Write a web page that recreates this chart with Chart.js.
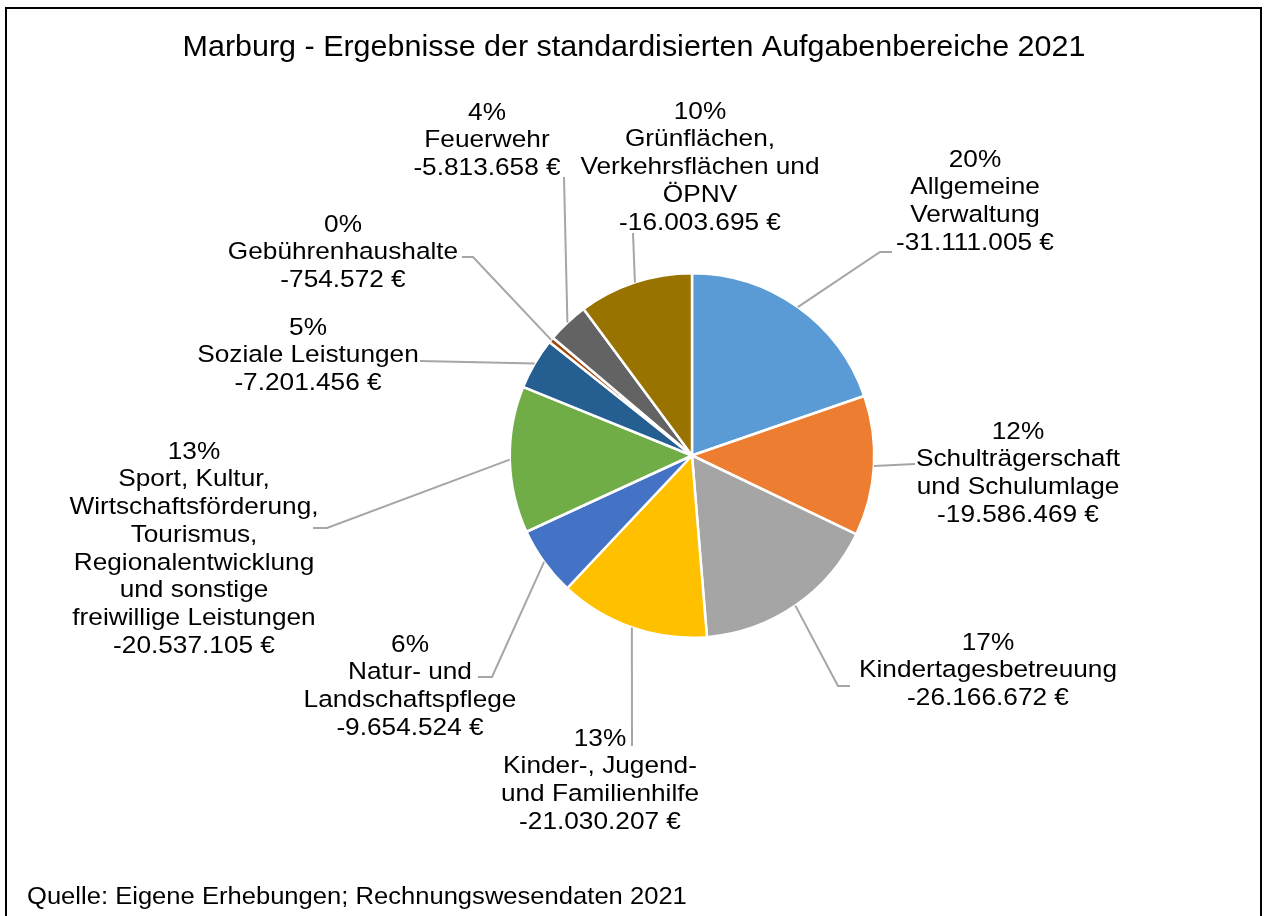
<!DOCTYPE html>
<html lang="de">
<head>
<meta charset="utf-8">
<title>Marburg - Aufgabenbereiche 2021</title>
<script src="https://cdn.jsdelivr.net/npm/chart.js@4.4.0/dist/chart.umd.min.js"></script>
<style>
  html, body { margin: 0; padding: 0; background: #fff; }
  #wrap { width: 1267px; height: 916px; position: relative; }
</style>
</head>
<body>
<div id="wrap"><canvas id="pieChart"></canvas></div>
<script>
const TITLE = "Marburg - Ergebnisse der standardisierten Aufgabenbereiche 2021";
const SOURCE = "Quelle: Eigene Erhebungen; Rechnungswesendaten 2021";

// Kategorien, so umbrochen wie im Original
const categories = [
  ["Allgemeine", "Verwaltung"],
  ["Schulträgerschaft", "und Schulumlage"],
  ["Kindertagesbetreuung"],
  ["Kinder-, Jugend-", "und Familienhilfe"],
  ["Natur- und", "Landschaftspflege"],
  ["Sport, Kultur,", "Wirtschaftsförderung,", "Tourismus,", "Regionalentwicklung", "und sonstige", "freiwillige Leistungen"],
  ["Soziale Leistungen"],
  ["Gebührenhaushalte"],
  ["Feuerwehr"],
  ["Grünflächen,", "Verkehrsflächen und", "ÖPNV"],
];

// Ergebnis je Aufgabenbereich in Euro (im Bild als negativer Betrag)
const amounts = [31111005, 19586469, 26166672, 21030207, 9654524, 20537105, 7201456, 754572, 5813658, 16003695];

const colors = ["#5B9BD5", "#ED7D31", "#A5A5A5", "#FFC000", "#4472C4", "#70AD47", "#255E91", "#9E480E", "#636363", "#997300"];

// wo die Beschriftungen stehen (Mitte x, erste Zeile y) und Knickpunkte der Führungslinie
const labelLayout = [
  { x: 975, y: 160, leader: [[880, 252], [892, 252]] },
  { x: 1018, y: 432, leader: [[915, 464]] },
  { x: 988, y: 643, leader: [[838, 686], [850, 686]] },
  { x: 600, y: 739, leader: [[632, 746]] },
  { x: 410, y: 645, leader: [[492, 677], [478, 677]] },
  { x: 194, y: 452, leader: [[327, 528], [313, 528]] },
  { x: 308, y: 328, leader: [[420, 361]] },
  { x: 343, y: 225, leader: [[473, 257], [462, 257]] },
  { x: 487, y: 113, leader: [[564, 177]] },
  { x: 700, y: 112, leader: [[633, 233]] },
];

const FONT = '"Liberation Sans", Arial, sans-serif';
const LINE_H = 27.7;
const STRETCH = 1.07;

function fmtEuro(v) {
  const s = String(Math.round(v)).replace(/\B(?=(\d{3})+(?!\d))/g, ".");
  return "-" + s + " €";
}

function drawText(ctx, text, x, y, align, sx) {
  ctx.save();
  ctx.translate(x, y);
  ctx.scale(sx || STRETCH, 1);
  ctx.textAlign = align || "center";
  ctx.fillText(text, 0, 0);
  ctx.restore();
}

const framePlugin = {
  id: "frame",
  beforeDraw(chart) {
    const ctx = chart.ctx;
    ctx.save();
    ctx.fillStyle = "#fff";
    ctx.fillRect(0, 0, chart.width, chart.height);
    ctx.strokeStyle = "#000";
    ctx.lineWidth = 2;
    ctx.strokeRect(6, 8, 1255, 920);
    ctx.fillStyle = "#000";
    ctx.textBaseline = "middle";
    ctx.font = `29.3px ${FONT}`;
    drawText(ctx, TITLE, 634, 48, "center", 1.04);
    ctx.font = `24.6px ${FONT}`;
    drawText(ctx, SOURCE, 27, 897, "left", 1.04);
    ctx.restore();
  },
};

const labelPlugin = {
  id: "outsideLabels",
  afterDatasetsDraw(chart) {
    const ctx = chart.ctx;
    const meta = chart.getDatasetMeta(0);
    const total = amounts.reduce((a, b) => a + b, 0);
    meta.data.forEach((arc, i) => {
      const lay = labelLayout[i];
      const mid = (arc.startAngle + arc.endAngle) / 2;
      const px = arc.x + Math.cos(mid) * arc.outerRadius;
      const py = arc.y + Math.sin(mid) * arc.outerRadius;

      ctx.save();
      ctx.strokeStyle = "#A6A6A6";
      ctx.lineWidth = 2;
      ctx.beginPath();
      ctx.moveTo(px, py);
      lay.leader.forEach((p) => ctx.lineTo(p[0], p[1]));
      ctx.stroke();

      const pct = Math.round((amounts[i] / total) * 100) + "%";
      const lines = [pct, ...categories[i], fmtEuro(amounts[i])];
      ctx.fillStyle = "#000";
      ctx.font = `24.5px ${FONT}`;
      ctx.textBaseline = "middle";
      lines.forEach((t, k) => drawText(ctx, t, lay.x, lay.y + k * LINE_H));
      ctx.restore();
    });
  },
};

new Chart(document.getElementById("pieChart"), {
  type: "pie",
  data: {
    labels: categories.map((c) => c.join(" ")),
    datasets: [{
      data: amounts,
      backgroundColor: colors,
      borderColor: "#fff",
      borderWidth: 2.5,
    }],
  },
  options: {
    responsive: true,
    maintainAspectRatio: false,
    animation: false,
    layout: { padding: { left: 507, right: 390, top: 272, bottom: 277 } },
    plugins: {
      legend: { display: false },
      tooltip: { enabled: false },
    },
  },
  plugins: [framePlugin, labelPlugin],
});
</script>
</body>
</html>
